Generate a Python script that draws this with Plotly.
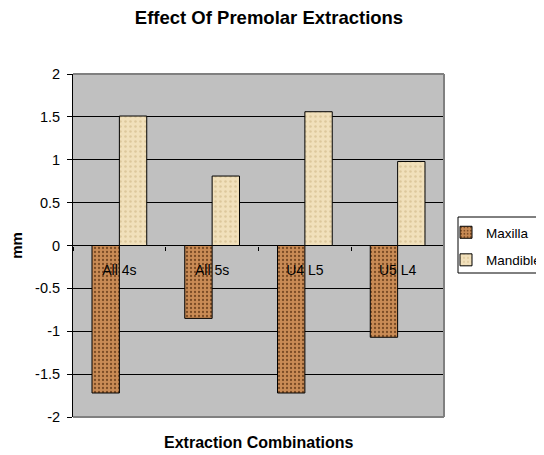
import plotly.graph_objects as go

categories = ["All 4s", "All 5s", "U4 L5", "U5 L4"]
maxilla = [-1.72, -0.85, -1.72, -1.07]
mandible = [1.51, 0.81, 1.56, 0.98]
y_ticks = [-2, -1.5, -1, -0.5, 0, 0.5, 1, 1.5, 2]
y_ticktext = ["-2", "-1.5", "-1", "-0.5", "0", "0.5", "1", "1.5", "2"]

FONT = "Liberation Sans, Arial, sans-serif"

# page is offset by the 8px body margin, so the figure is 8px smaller
W, H = 536, 447
L, R, T, B = 65, 100, 66, 38
PW, PH = W - L - R, H - T - B


def px_x(x):
    return (x - L) / PW


def px_y(y):
    return (H - B - y) / PH


fig = go.Figure()
fig.add_trace(go.Bar(
    name="Maxilla", x=categories, y=maxilla, legendgroup="a",
    marker=dict(color="#c98b55", line=dict(color="black", width=1),
                pattern=dict(shape=".", fgcolor="#7a4b25", bgcolor="#c98b55",
                             size=4, solidity=0.25, fillmode="replace")),
))
fig.add_trace(go.Bar(
    name="Mandible", x=categories, y=mandible, legendgroup="b",
    marker=dict(color="#f1e0bb", line=dict(color="black", width=1),
                pattern=dict(shape=".", fgcolor="#ddc89c", bgcolor="#f1e0bb",
                             size=5, solidity=0.2, fillmode="replace")),
))

fig.update_layout(
    width=W, height=H,
    margin=dict(l=L, r=R, t=T, b=B, autoexpand=False),
    paper_bgcolor="white",
    plot_bgcolor="#c0c0c0",
    barmode="group",
    bargap=0.41,
    bargroupgap=0,
    font=dict(family=FONT, size=14, color="black"),
    title=dict(text="<b>Effect Of Premolar Extractions</b>", x=px_x(261), xanchor="center",
               y=1 - 10 / H, yanchor="middle", xref="paper",
               font=dict(family=FONT, size=18.5, color="black")),
    showlegend=True,
    legend=dict(x=px_x(438), xanchor="left", y=px_y(209), yanchor="top",
                borderwidth=0, bgcolor="rgba(0,0,0,0)",
                font=dict(family=FONT, size=13.5), itemwidth=30,
                tracegroupgap=7, traceorder="grouped"),
    xaxis=dict(type="category", anchor="free", position=0.5,
               ticks="outside", ticklen=4, tickcolor="black", tickson="boundaries",
               showline=False, showgrid=False, zeroline=False,
               ticklabelstandoff=14,
               tickfont=dict(family=FONT, size=14)),
    yaxis=dict(range=[-2, 2], tickvals=y_ticks, ticktext=y_ticktext,
               showgrid=True, gridcolor="black", gridwidth=1,
               zeroline=True, zerolinecolor="black", zerolinewidth=1,
               showline=True, linecolor="black", linewidth=1,
               ticks="outside", ticklen=5, tickcolor="black",
               ticklabelstandoff=4,
               tickfont=dict(family=FONT, size=14.5),
               title=dict(text="<b>mm</b>", standoff=27,
                          font=dict(family=FONT, size=15))),
    annotations=[dict(text="<b>Extraction Combinations</b>", xref="paper", yref="paper",
                      x=0.5, y=px_y(434), xanchor="center", yanchor="middle",
                      showarrow=False, font=dict(family=FONT, size=16))],
    shapes=[
        dict(type="line", xref="paper", yref="paper", x0=0, x1=1, y0=1, y1=1,
             line=dict(color="#808080", width=2)),
        dict(type="line", xref="paper", yref="paper", x0=1, x1=1, y0=0, y1=1,
             line=dict(color="#808080", width=2)),
        dict(type="line", xref="paper", yref="paper", x0=0, x1=1, y0=0, y1=0,
             line=dict(color="#808080", width=2)),
        dict(type="rect", xref="paper", yref="paper",
             x0=px_x(450), x1=px_x(535), y0=px_y(265), y1=px_y(209),
             line=dict(color="black", width=1), fillcolor="rgba(0,0,0,0)"),
    ],
)

fig.write_html("out.html")
